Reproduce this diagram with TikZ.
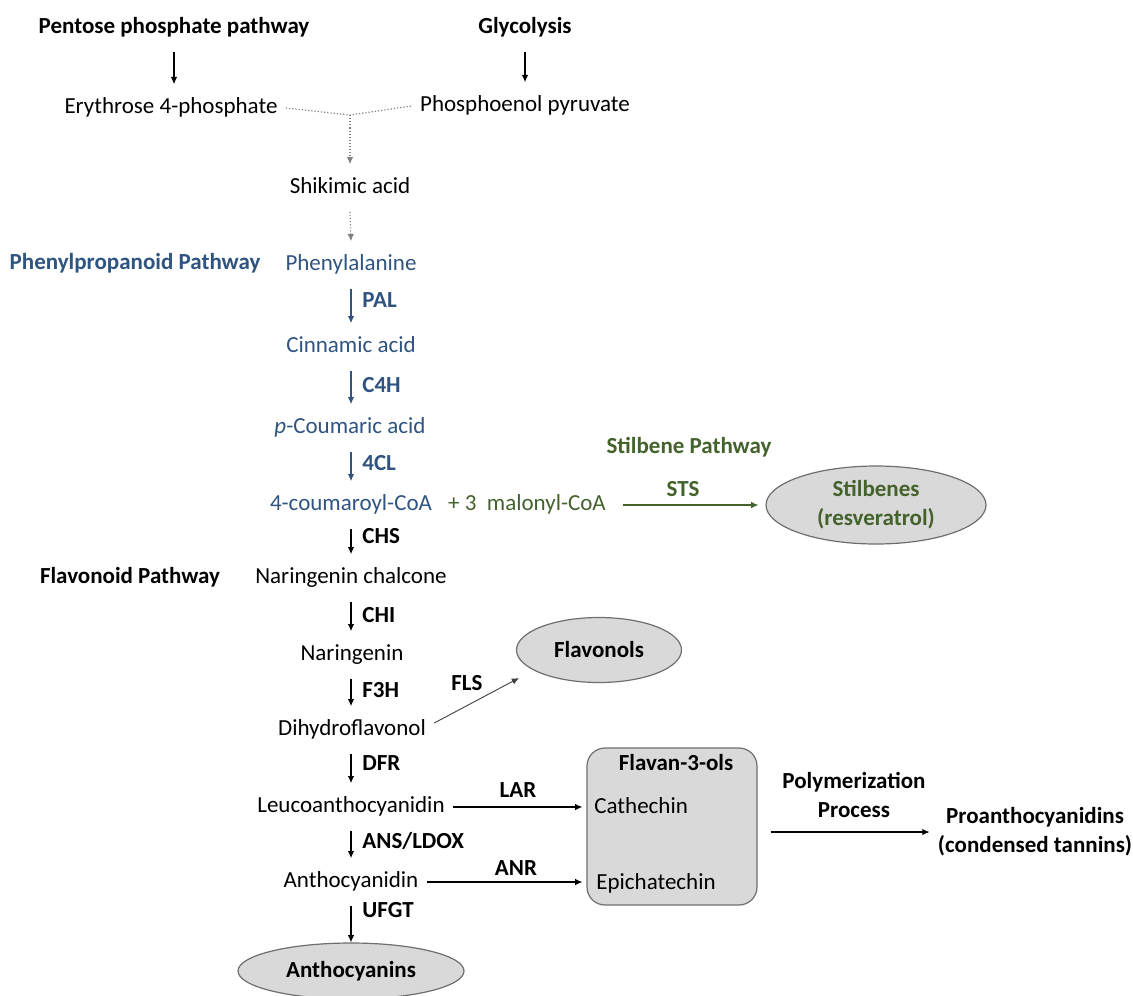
\documentclass[tikz,border=0pt]{standalone}
\usepackage{fontspec}
\setmainfont{Carlito}
\usetikzlibrary{arrows.meta,shapes.geometric,calc}
\definecolor{pblue}{RGB}{47,84,128}
\definecolor{sgreen}{RGB}{68,98,44}
\definecolor{boxfill}{RGB}{217,217,217}
\definecolor{boxline}{RGB}{110,110,110}
\newcommand\dsz{\fontsize{11.5}{14.5}\selectfont}
\begin{document}
\begin{tikzpicture}[x=0.5pt,y=-0.5pt,
  font=\dsz,
  txt/.style={inner xsep=4pt,inner ysep=6.4pt,text height=8.2pt,text depth=2.4pt},
  bold/.style={font=\dsz\bfseries},
  lbl/.style={font=\dsz\bfseries,anchor=west,inner sep=0pt,text height=8.2pt,text depth=2.4pt},
  clbl/.style={font=\dsz\bfseries,inner sep=0pt,text height=8.2pt,text depth=2.4pt},
  arr/.style={-{Latex[length=3.6pt,width=3.2pt]},line width=0.55pt},
  dots/.style={densely dotted,line width=0.6pt,draw=gray},
  oval/.style={ellipse,draw=boxline,fill=boxfill,line width=0.6pt,inner sep=0pt,align=center,font=\dsz\bfseries},
]
\useasboundingbox (0,0) rectangle (1133,995);
\coordinate (col) at (351,0);

% top
\node[txt,bold] (pent) at (174,28) {Pentose phosphate pathway};
\node[txt,bold] (glyc) at (525,28) {Glycolysis};
\node[txt] (ery) at (171,108) {Erythrose 4-phosphate};
\node[txt] (pep) at (525,106) {Phosphoenol pyruvate};
\coordinate (merge) at (350,115);
\node[txt] (shik) at (350,188) {Shikimic acid};

\draw[arr] (pent.south) -- (pent.south |- ery.north);
\draw[arr] (glyc.south) -- (glyc.south |- pep.north);
\draw[dots] (ery.east) -- (merge) -- (pep.west);
\draw[dots,arr] (merge) -- (shik.north);

% phenylpropanoid
\node[txt,bold,text=pblue] (ppp) at (135,264) {Phenylpropanoid Pathway};
\node[txt,text=pblue] (phe) at (351,265) {Phenylalanine};
\node[txt,text=pblue] (cin) at (351,347) {Cinnamic acid};
\node[txt,text=pblue] (pcou) at (350,428) {\textit{p}-Coumaric acid};
\node[txt,text=pblue] (coum) at (351,505) {4-coumaroyl-CoA};
\node[lbl,text=pblue] (pal) at (362,302) {PAL};
\node[lbl,text=pblue] (c4h) at (362,387) {C4H};
\node[lbl,text=pblue] (cl4) at (362,465) {4CL};

\draw[dots,arr] (shik.south) -- (phe.north);
\draw[arr,pblue] (phe.south -| col) -- (cin.north -| col);
\draw[arr,pblue] (cin.south -| col) -- (pcou.north -| col);
\draw[arr,pblue] (pcou.south -| col) -- (coum.north -| col);

% stilbene
\node[txt,text=sgreen] (malo) at (527,505) {+ 3\hspace{0.45em}malonyl-CoA};
\node[clbl,text=sgreen] (stpath) at (689,448) {Stilbene Pathway};
\node[clbl,text=sgreen] (sts) at (683,491) {STS};
\node[oval,text=sgreen,minimum width=110pt,minimum height=39pt] (stil) at (876,505) {Stilbenes\\(resveratrol)};
\draw[arr,sgreen,shorten <=4.5pt,shorten >=3.5pt] (malo.east) -- (stil.west |- malo.east);

% flavonoid
\node[txt,bold] (flp) at (130,578) {Flavonoid Pathway};
\node[txt] (chal) at (351,578) {Naringenin chalcone};
\node[txt] (nar) at (352,655) {Naringenin};
\node[txt] (dihy) at (352,730) {Dihydroflavonol};
\node[txt] (leuco) at (351,807) {Leucoanthocyanidin};
\node[txt] (antho) at (351,882) {Anthocyanidin};
\node[lbl] (chs) at (362,538) {CHS};
\node[lbl] (chi) at (362,617) {CHI};
\node[lbl] (f3h) at (362,692) {F3H};
\node[lbl] (dfr) at (362,765) {DFR};
\node[lbl] (ans) at (362,843) {ANS/LDOX};
\node[lbl] (ufgt) at (362,912) {UFGT};
\node[oval,minimum width=113pt,minimum height=28pt] (anthoc) at (351,971) {Anthocyanins};

\draw[arr] (coum.south -| col) -- (chal.north -| col);
\draw[arr] (chal.south -| col) -- (nar.north -| col);
\draw[arr] (nar.south -| col) -- (dihy.north -| col);
\draw[arr] (dihy.south -| col) -- (leuco.north -| col);
\draw[arr] (leuco.south -| col) -- (antho.north -| col);
\draw[arr] (antho.south -| col) -- (anthoc.north -| col);

% flavonols
\node[oval,minimum width=82.5pt,minimum height=32.5pt] (flav) at (599,650) {Flavonols};
\node[clbl] (fls) at (467,685) {FLS};
\coordinate (flsstart) at ($(dihy.east)+(0,-7)$);
\coordinate (flsend) at (519,678);
\draw[arr,draw=black!75,line width=0.45pt] (flsstart) -- (flsend);

% flavan-3-ols
\node[draw=boxline,fill=boxfill,line width=0.6pt,rounded corners=9pt,minimum width=85pt,minimum height=78.5pt] (box) at (672,826.5) {};
\node[clbl] (f3ol) at (676,765) {Flavan-3-ols};
\node[txt,anchor=west,inner xsep=0pt] (cat) at (594,808) {Cathechin};
\node[txt,anchor=west,inner xsep=0pt] (epi) at (596,884) {Epichatechin};
\node[clbl] (lar) at (518,792) {LAR};
\node[clbl] (anr) at (516,870) {ANR};
\draw[arr,shorten >=2pt] (leuco.east) -- (leuco.east -| box.west);
\draw[arr,shorten >=2pt] (antho.east) -- (antho.east -| box.west);

% polymerization
\node[bold,align=center,inner sep=0pt] (poly) at (854,795) {Polymerization\\Process};
\node[bold,align=center,inner xsep=4pt,inner ysep=0pt] (proan) at (1035,832) {Proanthocyanidins\\(condensed tannins)};
\draw[arr,shorten <=6.5pt] (box.east |- proan.west) -- (proan.west);
\end{tikzpicture}
\end{document}
